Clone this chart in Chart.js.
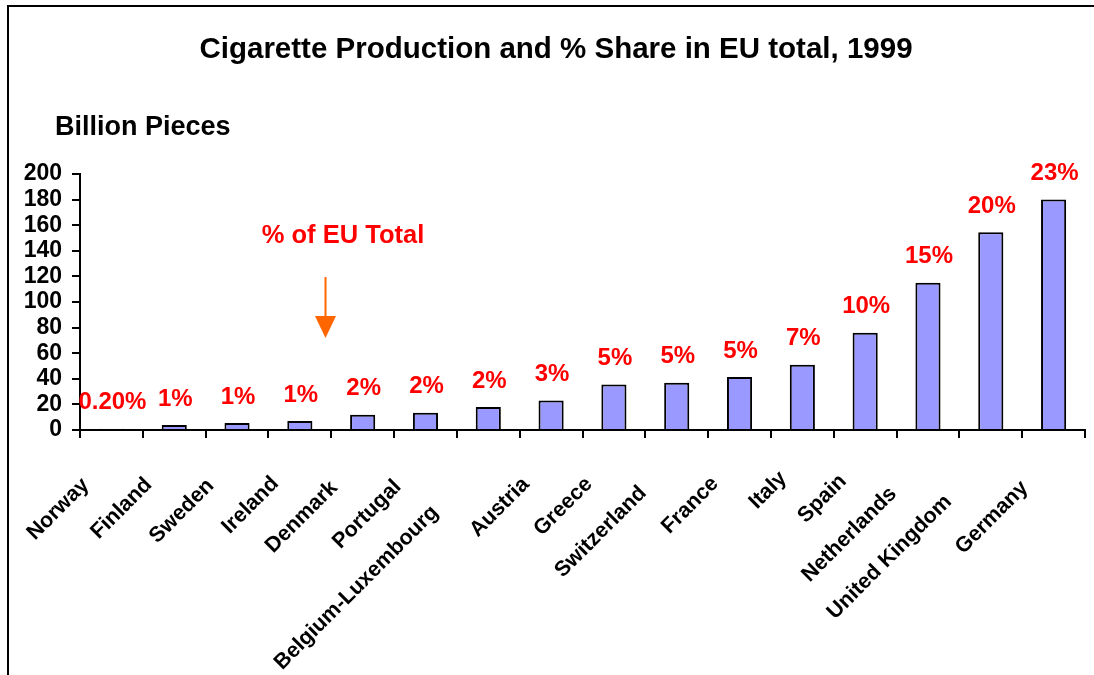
<!DOCTYPE html>
<html>
<head>
<meta charset="utf-8">
<script src="https://cdn.jsdelivr.net/npm/chart.js@4.4.1/dist/chart.umd.min.js"></script>
<style>
  html, body { margin: 0; padding: 0; background: #fff; }
  #wrap { position: relative; width: 1094px; height: 675px; }
  canvas { display: block; }
</style>
</head>
<body>
<div id="wrap"><canvas id="c" width="1094" height="675"></canvas></div>
<script>
// ---- data ----
const categories = ["Norway", "Finland", "Sweden", "Ireland", "Denmark", "Portugal", "Belgium-Luxembourg", "Austria", "Greece", "Switzerland", "France", "Italy", "Spain", "Netherlands", "United Kingdom", "Germany"];
const production = [1, 4, 5.5, 7, 12, 13.5, 18, 23, 35.5, 37, 41.5, 51, 76, 115, 154.5, 180];
const shareLabels = ["0.20%", "1%", "1%", "1%", "2%", "2%", "2%", "3%", "5%", "5%", "5%", "7%", "10%", "15%", "20%", "23%"];
const yTicks = [0, 20, 40, 60, 80, 100, 120, 140, 160, 180, 200];
const titleText = "Cigarette Production and % Share in EU total, 1999";
const yAxisTitle = "Billion Pieces";
const noteText = "% of EU Total";

const FONT = "'Liberation Sans', Arial, sans-serif";

const decorPlugin = {
  id: 'decor',
  beforeDraw(chart) {
    const ctx = chart.ctx;
    ctx.save();
    ctx.fillStyle = '#fff';
    ctx.fillRect(0, 0, chart.width, chart.height);
    ctx.strokeStyle = '#000';
    ctx.lineWidth = 2;
    ctx.beginPath();
    ctx.moveTo(8, 675);
    ctx.lineTo(8, 6);
    ctx.lineTo(1094, 6);
    ctx.stroke();
    ctx.restore();
  },
  afterDraw(chart) {
    const ctx = chart.ctx;
    const xs = chart.scales.x;
    const area = chart.chartArea;
    ctx.save();
    // title
    ctx.fillStyle = '#000';
    ctx.font = "bold 29.5px " + FONT;
    ctx.textAlign = 'center';
    ctx.textBaseline = 'middle';
    ctx.fillText(titleText, 556, 50);
    // y axis title
    ctx.font = "bold 27px " + FONT;
    ctx.textAlign = 'left';
    ctx.fillText(yAxisTitle, 55, 128);
    // note
    ctx.fillStyle = '#FF0000';
    ctx.font = "bold 25.5px " + FONT;
    ctx.textAlign = 'center';
    ctx.fillText(noteText, 343, 236);
    // arrow
    ctx.strokeStyle = '#FF6600';
    ctx.fillStyle = '#FF6600';
    ctx.lineWidth = 2;
    ctx.beginPath();
    ctx.moveTo(325.5, 277);
    ctx.lineTo(325.5, 318);
    ctx.stroke();
    ctx.beginPath();
    ctx.moveTo(315, 316);
    ctx.lineTo(336, 316);
    ctx.lineTo(325.5, 338);
    ctx.closePath();
    ctx.fill();
    // x category labels rotated
    ctx.fillStyle = '#000';
    ctx.font = "bold 21.5px " + FONT;
    ctx.textAlign = 'right';
    ctx.textBaseline = 'middle';
    categories.forEach((lab, i) => {
      const cx = xs.getPixelForValue(i);
      const w = ctx.measureText(lab).width;
      const t = 6 + 0.19 * w;
      const ax = cx - t - 5;
      const ay = area.bottom + 26 + t + 5;
      ctx.save();
      ctx.translate(ax, ay);
      ctx.rotate(-Math.PI / 4);
      ctx.fillText(lab, 0, 0);
      ctx.restore();
    });
    ctx.restore();
  },
  afterDatasetsDraw(chart) {
    const ctx = chart.ctx;
    const meta = chart.getDatasetMeta(0);
    ctx.save();
    ctx.fillStyle = '#FF0000';
    ctx.font = "bold 24px " + FONT;
    ctx.textAlign = 'center';
    ctx.textBaseline = 'middle';
    meta.data.forEach((bar, i) => {
      ctx.fillText(shareLabels[i], bar.x + 1, bar.y - 26);
    });
    ctx.restore();
  }
};

new Chart(document.getElementById('c'), {
  type: 'bar',
  data: {
    labels: categories,
    datasets: [{
      data: production,
      backgroundColor: '#9999FF',
      borderColor: '#000',
      borderWidth: 2,
      borderSkipped: 'bottom',
      barPercentage: 0.4,
      categoryPercentage: 1.0
    }]
  },
  options: {
    responsive: false,
    devicePixelRatio: 1,
    animation: false,
    layout: { padding: { top: 174, left: 0, right: 9, bottom: 0 } },
    plugins: { legend: { display: false }, title: { display: false }, tooltip: { enabled: false } },
    scales: {
      x: {
        offset: true,
        grid: { display: true, offset: true, drawOnChartArea: false, drawTicks: true, tickLength: 8, color: '#000', lineWidth: 2 },
        border: { display: true, color: '#000', width: 2 },
        ticks: { display: false },
        afterFit(scale) { scale.height = 245; }
      },
      y: {
        min: 0, max: 200,
        afterBuildTicks(scale) { scale.ticks = yTicks.map(v => ({ value: v })); },
        grid: { display: true, drawOnChartArea: false, drawTicks: true, tickLength: 8, color: '#000', lineWidth: 2 },
        border: { display: true, color: '#000', width: 2 },
        ticks: { color: '#000', font: { family: FONT, size: 23, weight: 'bold' }, padding: 10, autoSkip: false, maxRotation: 0 },
        afterFit(scale) { scale.width = 80; }
      }
    }
  },
  plugins: [decorPlugin]
});
</script>
</body>
</html>
